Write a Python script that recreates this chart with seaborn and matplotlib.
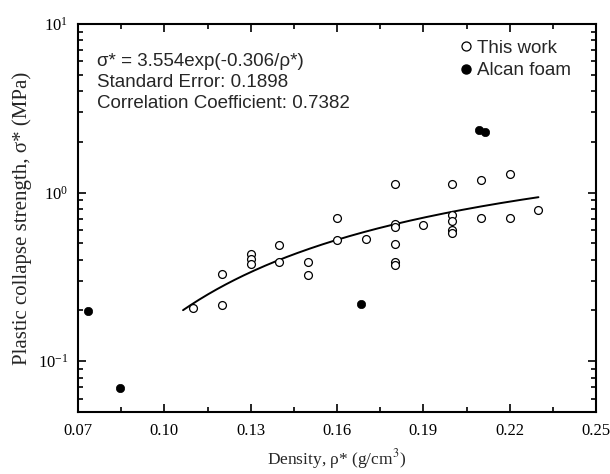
import numpy as np
import pandas as pd
import matplotlib
matplotlib.use("Agg")
import matplotlib.pyplot as plt
import seaborn as sns
from matplotlib.ticker import FixedLocator, LogLocator, LogFormatterMathtext, NullFormatter, FuncFormatter
from matplotlib.lines import Line2D

# Data
this_work_density = [0.11, 0.12, 0.12, 0.13, 0.13, 0.13, 0.14, 0.14, 0.15, 0.15,
                     0.16, 0.16, 0.17, 0.18, 0.18, 0.18, 0.18, 0.18, 0.18, 0.19,
                     0.20, 0.20, 0.20, 0.20, 0.20, 0.21, 0.21, 0.22, 0.22, 0.23]
this_work_strength = [0.207, 0.328, 0.217, 0.432, 0.403, 0.376, 0.49, 0.39, 0.39, 0.325,
                      0.71, 0.525, 0.532, 1.127, 0.651, 0.622, 0.499, 0.39, 0.374, 0.642,
                      1.132, 0.736, 0.681, 0.602, 0.573, 1.18, 0.703, 1.29, 0.71, 0.789]
alcan_density = [0.0736, 0.0846, 0.1683, 0.2094, 0.2115]
alcan_strength = [0.198, 0.0693, 0.218, 2.34, 2.29]

fit_a = 3.554
fit_b = 0.306
fit_range = [0.1065, 0.23]

x_ticks = [0.07, 0.10, 0.13, 0.16, 0.19, 0.22, 0.25]
x_minor = [0.085, 0.115, 0.145, 0.175, 0.205, 0.235]

sns.set_theme(style="ticks")
plt.rcParams["mathtext.fontset"] = "stix"
serif = ["Liberation Serif", "DejaVu Serif"]
sans = ["Liberation Sans", "DejaVu Sans"]

fig = plt.figure(figsize=(6.1, 4.74), dpi=100)
ax = fig.add_axes([78 / 610, 1 - 412 / 474, (596 - 78) / 610, (412 - 24) / 474])

df_tw = pd.DataFrame({"density": this_work_density, "strength": this_work_strength})
df_al = pd.DataFrame({"density": alcan_density, "strength": alcan_strength})

xs = np.linspace(fit_range[0], fit_range[1], 200)
df_fit = pd.DataFrame({"density": xs, "strength": fit_a * np.exp(-fit_b / xs)})
sns.lineplot(data=df_fit, x="density", y="strength", ax=ax, color="black", lw=1.4, zorder=2)

sns.scatterplot(data=df_tw, x="density", y="strength", ax=ax, marker="o",
                facecolor="white", edgecolor="black", linewidth=0.9, s=32, zorder=3)
sns.scatterplot(data=df_al, x="density", y="strength", ax=ax, marker="o",
                color="black", edgecolor="black", linewidth=0.5, s=36, zorder=3)

ax.set_yscale("log")
ax.set_xlim(0.07, 0.25)
ax.set_ylim(0.05, 10)
ax.xaxis.set_major_locator(FixedLocator(x_ticks))
ax.xaxis.set_minor_locator(FixedLocator(x_minor))
ax.xaxis.set_major_formatter(FuncFormatter(lambda v, p: f"{v:.2f}"))
ax.yaxis.set_major_locator(LogLocator(base=10, numticks=10))
ax.yaxis.set_minor_locator(LogLocator(base=10, subs=np.arange(2, 10), numticks=20))
ax.yaxis.set_major_formatter(LogFormatterMathtext())
ax.yaxis.set_minor_formatter(NullFormatter())

ax.tick_params(which="both", direction="in", top=True, right=True, width=1.2, colors="black")
ax.tick_params(which="major", length=6, labelsize=12)
ax.tick_params(axis="x", which="major", pad=8)
ax.tick_params(axis="y", which="major", pad=7)
ax.tick_params(which="minor", length=3.5)
for lab in ax.get_xticklabels() + ax.get_yticklabels():
    lab.set_family(serif)
for sp in ax.spines.values():
    sp.set_linewidth(1.5)
    sp.set_color("black")

ax.set_xlabel("Density, ρ* (g/cm$^3$)", family=serif, fontsize=12.5, labelpad=6)
ax.set_ylabel("Plastic collapse strength, σ* (MPa)", family=serif, fontsize=15, labelpad=4)

txt = "σ* = 3.554exp(-0.306/ρ*)\nStandard Error: 0.1898\nCorrelation Coefficient: 0.7382"
ax.text(0.037, 0.925, txt, transform=ax.transAxes, family=sans, fontsize=13.5,
        va="top", ha="left", linespacing=1.3)

handles = [
    Line2D([], [], marker="o", ls="none", markerfacecolor="white", markeredgecolor="black",
           markersize=6.5, markeredgewidth=0.9, label="This work"),
    Line2D([], [], marker="o", ls="none", markerfacecolor="black", markeredgecolor="black",
           markersize=6.5, label="Alcan foam"),
]
leg = ax.legend(handles=handles, loc="upper left", bbox_to_anchor=((458 - 78) / 518, 0.96),
                frameon=False, prop={"family": sans, "size": 13.5}, handletextpad=0.2,
                handlelength=0.8, labelspacing=0.3, borderaxespad=0.0, borderpad=0.0)

fig.savefig("out.png", dpi=100)
